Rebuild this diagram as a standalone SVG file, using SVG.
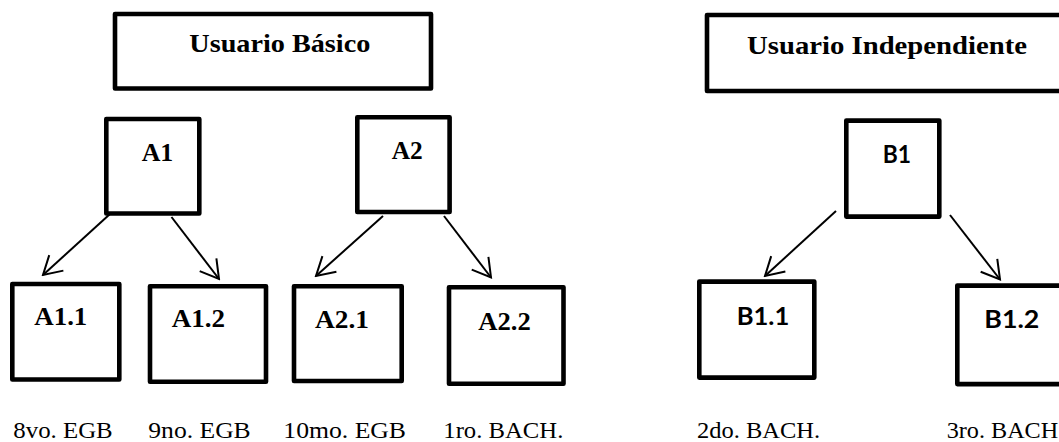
<svg xmlns="http://www.w3.org/2000/svg" width="1059" height="442" viewBox="0 0 1059 442">
  <style>
    .box { fill: #ffffff; stroke: #000000; stroke-width: 4.6; stroke-linejoin: round; }
    .t { font-family: "Liberation Serif", "Times New Roman", serif; font-weight: bold; font-size: 26px; fill: #000; }
    .s { font-family: Lato, "Liberation Sans", sans-serif; font-weight: bold; font-size: 25px; fill: #000; }
    .lbl { font-family: "Liberation Serif", "Times New Roman", serif; font-size: 24px; fill: #000; }
    .conn { stroke: #000; stroke-width: 2; fill: none; }
  </style>
  <defs>
    <marker id="arrow" markerUnits="userSpaceOnUse" viewBox="-22 -13 24 26" refX="0" refY="0" markerWidth="24" markerHeight="26" orient="auto">
      <path d="M-18,-10.5 L0,0 L-18,10.5" fill="none" stroke="#000" stroke-width="2" stroke-linejoin="miter"/>
    </marker>
  </defs>
  <rect width="1059" height="442" fill="#ffffff"/>

  <g id="usuario-basico">
    <rect class="box" x="115" y="14" width="316" height="74.5"/>
    <text class="t" x="189.3" y="51.7" textLength="181" lengthAdjust="spacingAndGlyphs">Usuario Básico</text>
  </g>
  <g id="usuario-independiente">
    <rect class="box" x="707" y="15" width="400" height="76"/>
    <text class="t" x="747" y="54" textLength="280" lengthAdjust="spacingAndGlyphs">Usuario Independiente</text>
  </g>

  <g id="A1">
    <rect class="box" x="106.3" y="119" width="93" height="94.5"/>
    <text class="t" x="141.7" y="161" textLength="31.6" lengthAdjust="spacingAndGlyphs">A1</text>
  </g>
  <g id="A2">
    <rect class="box" x="357.3" y="117.3" width="92.3" height="94.7"/>
    <text class="t" x="391.7" y="159" textLength="31" lengthAdjust="spacingAndGlyphs">A2</text>
  </g>
  <g id="A1.1">
    <rect class="box" x="12.3" y="284" width="107" height="95.5"/>
    <text class="t" x="34.3" y="325" textLength="53" lengthAdjust="spacingAndGlyphs">A1.1</text>
  </g>
  <g id="A1.2">
    <rect class="box" x="150" y="286.3" width="116" height="95.5"/>
    <text class="t" x="171.7" y="327.3" textLength="53.3" lengthAdjust="spacingAndGlyphs">A1.2</text>
  </g>
  <g id="A2.1">
    <rect class="box" x="294" y="286.3" width="107.7" height="94.7"/>
    <text class="t" x="315" y="328.3" textLength="54" lengthAdjust="spacingAndGlyphs">A2.1</text>
  </g>
  <g id="A2.2">
    <rect class="box" x="449" y="287.3" width="114.5" height="96.5"/>
    <text class="t" x="478.3" y="329.5" textLength="52.5" lengthAdjust="spacingAndGlyphs">A2.2</text>
  </g>
  <g id="B1">
    <rect class="box" x="846.3" y="120.6" width="93" height="96"/>
    <text class="s" x="882.7" y="162.7" textLength="28.3" lengthAdjust="spacingAndGlyphs">B1</text>
  </g>
  <g id="B1.1">
    <rect class="box" x="699.3" y="281.6" width="115" height="96"/>
    <text class="s" x="736.7" y="325" textLength="52.6" lengthAdjust="spacingAndGlyphs">B1.1</text>
  </g>
  <g id="B1.2">
    <rect class="box" x="957.3" y="285.6" width="200" height="98.5"/>
    <text class="s" x="984.3" y="328.3" textLength="55" lengthAdjust="spacingAndGlyphs">B1.2</text>
  </g>

  <g id="connectors">
    <line class="conn" x1="110" y1="214" x2="43" y2="275" marker-end="url(#arrow)"/>
    <line class="conn" x1="171.5" y1="217" x2="219" y2="279" marker-end="url(#arrow)"/>
    <line class="conn" x1="383" y1="216" x2="316" y2="276" marker-end="url(#arrow)"/>
    <line class="conn" x1="444" y1="216" x2="491" y2="277.5" marker-end="url(#arrow)"/>
    <line class="conn" x1="836" y1="211" x2="765" y2="276" marker-end="url(#arrow)"/>
    <line class="conn" x1="950" y1="215" x2="1000" y2="279.5" marker-end="url(#arrow)"/>
  </g>

  <g id="labels">
    <text class="lbl" x="13.3" y="438" textLength="99.4" lengthAdjust="spacingAndGlyphs">8vo. EGB</text>
    <text class="lbl" x="148.3" y="438" textLength="102.4" lengthAdjust="spacingAndGlyphs">9no. EGB</text>
    <text class="lbl" x="283.3" y="438" textLength="122.7" lengthAdjust="spacingAndGlyphs">10mo. EGB</text>
    <text class="lbl" x="443.3" y="438" textLength="120" lengthAdjust="spacingAndGlyphs">1ro. BACH.</text>
    <text class="lbl" x="697" y="438" textLength="123" lengthAdjust="spacingAndGlyphs">2do. BACH.</text>
    <text class="lbl" x="946.7" y="438" textLength="111.5" lengthAdjust="spacingAndGlyphs">3ro. BACH</text>
  </g>
</svg>
